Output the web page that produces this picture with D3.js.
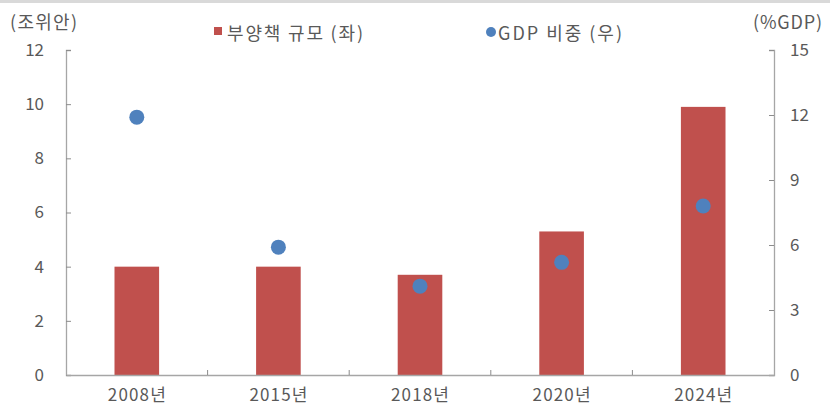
<!DOCTYPE html>
<html>
<head>
<meta charset="utf-8">
<script src="https://cdn.jsdelivr.net/npm/d3@7"></script>
<style>
  body { margin: 0; background: #fff; }
  svg text { font-family: "Noto Sans CJK KR", "Noto Sans", sans-serif; fill: #595959; }
</style>
</head>
<body>
<svg id="chart" width="830" height="409"></svg>
<script>
  // data
  const years = ["2008년", "2015년", "2018년", "2020년", "2024년"];
  const stimulus = [4.0, 4.0, 3.7, 5.3, 9.9];   // 조위안, left axis
  const gdpShare = [11.9, 5.9, 4.1, 5.2, 7.8];   // %GDP, right axis
  const leftTicks = [0, 2, 4, 6, 8, 10, 12];
  const rightTicks = [0, 3, 6, 9, 12, 15];

  const svg = d3.select("#chart");
  const margin = { top: 50, right: 56, bottom: 34, left: 66 };
  const width = 830 - margin.left - margin.right;
  const height = 409 - margin.top - margin.bottom;

  // thin grey strip along the top edge
  svg.append("rect").attr("x", 0).attr("y", 0).attr("width", 830).attr("height", 3).attr("fill", "#d9d9d9");

  const g = svg.append("g").attr("transform", `translate(${margin.left},${margin.top})`);

  const x = d3.scaleBand().domain(years).range([0, width]).padding(0);
  const yL = d3.scaleLinear().domain([0, 12]).range([height, 0]);
  const yR = d3.scaleLinear().domain([0, 15]).range([height, 0]);
  const barW = x.bandwidth() * 0.315;

  // bars
  g.selectAll(".bar")
    .data(years)
    .join("rect")
    .attr("class", "bar")
    .attr("x", d => x(d) + x.bandwidth() / 2 - barW / 2)
    .attr("y", (d, i) => yL(stimulus[i]))
    .attr("width", barW)
    .attr("height", (d, i) => height - yL(stimulus[i]))
    .attr("fill", "#c0504d");

  // left axis
  const axisL = g.append("g").call(d3.axisLeft(yL).tickValues(leftTicks).tickSize(-5).tickPadding(22));
  // right axis
  const axisR = g.append("g").attr("transform", `translate(${width},0)`)
    .call(d3.axisRight(yR).tickValues(rightTicks).tickSize(-5).tickPadding(16));
  // x axis: ticks between categories
  const axisX = g.append("g").attr("transform", `translate(0,${height})`)
    .call(d3.axisBottom(x).tickSize(0).tickPadding(14));
  axisX.selectAll(".between")
    .data(years.slice(1))
    .join("line")
    .attr("class", "between")
    .attr("x1", d => x(d)).attr("x2", d => x(d))
    .attr("y1", 0).attr("y2", -5);

  [axisL, axisR, axisX].forEach(a => {
    a.selectAll("path.domain").attr("stroke", "#a6a6a6").attr("stroke-width", 1.3);
    a.selectAll("line").attr("stroke", "#8c8c8c");
    a.selectAll("text").attr("font-size", 17).attr("fill", "#595959");
  });
  axisX.selectAll("text").attr("textLength", 58).attr("lengthAdjust", "spacing");

  // dots
  g.selectAll(".dot")
    .data(years)
    .join("circle")
    .attr("class", "dot")
    .attr("cx", d => x(d) + x.bandwidth() / 2)
    .attr("cy", (d, i) => yR(gdpShare[i]))
    .attr("r", 7.5)
    .attr("fill", "#4f81bd");

  // axis titles
  svg.append("text").attr("x", 10).attr("y", 29).attr("font-size", 18)
    .attr("textLength", 67).attr("lengthAdjust", "spacing").text("(조위안)");
  svg.append("text").attr("x", 753).attr("y", 29).attr("font-size", 18)
    .attr("textLength", 69).attr("lengthAdjust", "spacing").text("(%GDP)");

  // legend
  const leg = svg.append("g");
  leg.append("rect").attr("x", 214).attr("y", 27).attr("width", 8).attr("height", 8).attr("fill", "#c0504d");
  leg.append("text").attr("x", 227).attr("y", 40).attr("font-size", 18)
    .attr("textLength", 136).attr("lengthAdjust", "spacing").text("부양책 규모 (좌)");
  leg.append("circle").attr("cx", 491).attr("cy", 32).attr("r", 5).attr("fill", "#4f81bd");
  leg.append("text").attr("x", 498).attr("y", 40).attr("font-size", 18)
    .attr("textLength", 124).attr("lengthAdjust", "spacing").text("GDP 비중 (우)");
</script>
</body>
</html>
